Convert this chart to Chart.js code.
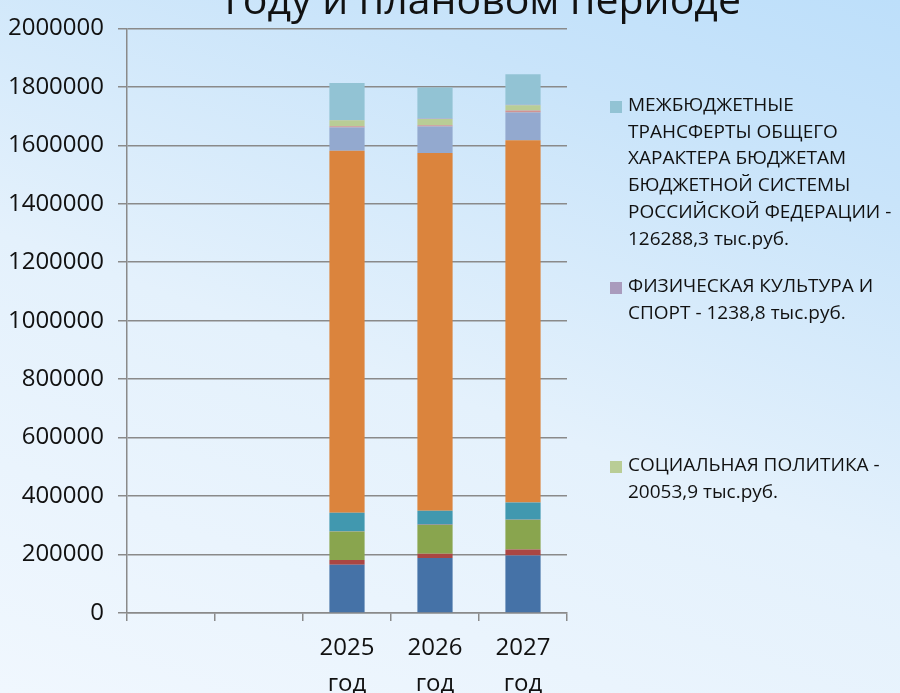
<!DOCTYPE html>
<html>
<head>
<meta charset="utf-8">
<script src="https://cdn.jsdelivr.net/npm/chart.js@4/dist/chart.umd.min.js"></script>
<style>
  html, body { margin: 0; padding: 0; }
  body {
    width: 900px; height: 693px; overflow: hidden; position: relative;
    background: linear-gradient(20deg, #f0f7fe 0%, #e4f1fc 45%, #c9e4fa 80%, #bddffa 100%);
    font-family: "Open Sans", sans-serif;
  }
  #wrap { position: absolute; left: 0; top: 0; width: 900px; height: 693px; }
  .title {
    position: absolute; left: 0; width: 966px; top: -22px;
    text-align: center; font-size: 41px; line-height: 41px; color: #111; white-space: nowrap;
  }
  .legend { position: absolute; left: 610px; font-size: 19px; line-height: 26.7px; color: #111; }
  .legend .sw { position: absolute; left: 0; top: 10px; width: 12px; height: 12px; }
  .legend .tx { margin-left: 18px; white-space: nowrap; }
</style>
</head>
<body>
<div id="wrap"><canvas id="chart" width="900" height="693"></canvas></div>
<div class="title">году и плановом периоде</div>
<div id="legend"></div>
<script>
const categories = ["", "", ["2025", "год"], ["2026", "год"], ["2027", "год"]];

// серии снизу вверх
const seriesNames = [
  "s1", "s2", "s3", "s4", "s5", "s6", "s7", "s8",
  "СОЦИАЛЬНАЯ ПОЛИТИКА - 20053,9 тыс.руб.",
  "ФИЗИЧЕСКАЯ КУЛЬТУРА И СПОРТ - 1238,8 тыс.руб.",
  "МЕЖБЮДЖЕТНЫЕ ТРАНСФЕРТЫ ОБЩЕГО ХАРАКТЕРА БЮДЖЕТАМ БЮДЖЕТНОЙ СИСТЕМЫ РОССИЙСКОЙ ФЕДЕРАЦИИ - 126288,3 тыс.руб."
];
const seriesColors = [
  "#4572a7", "#aa4643", "#89a54e", "#71588f", "#4198af", "#db843d",
  "#93a9cf", "#d19392", "#b9cd96", "#a99bbd", "#92c3d4"
];
const s1 = [null, null, 165000, 188000, 197000];
const s2 = [null, null, 16000, 15000, 20300];
const s3 = [null, null, 97500, 98500, 102000];
const s4 = [null, null, 1000, 2000, 1000];
const s5 = [null, null, 63500, 46500, 57800];
const s6 = [null, null, 1238000, 1223600, 1239500];
const s7 = [null, null, 80000, 90600, 95100];
const s8 = [null, null, 4400, 4500, 6800];
const s9 = [null, null, 20053.9, 21500, 18000];
const s10 = [null, null, 1238.8, 1200, 1200];
const s11 = [null, null, 126288.3, 106500, 104200];
const seriesValues = [s1, s2, s3, s4, s5, s6, s7, s8, s9, s10, s11];
const yTicks = [0, 200000, 400000, 600000, 800000, 1000000, 1200000, 1400000, 1600000, 1800000, 2000000];

// легенда (видны только три пункта)
const legendItems = [
  { idx: 10, top: 91, lines: ["МЕЖБЮДЖЕТНЫЕ", "ТРАНСФЕРТЫ ОБЩЕГО", "ХАРАКТЕРА БЮДЖЕТАМ", "БЮДЖЕТНОЙ СИСТЕМЫ", "РОССИЙСКОЙ ФЕДЕРАЦИИ -", "126288,3 тыс.руб."] },
  { idx: 9, top: 272, lines: ["ФИЗИЧЕСКАЯ КУЛЬТУРА И", "СПОРТ - 1238,8 тыс.руб."] },
  { idx: 8, top: 451, lines: ["СОЦИАЛЬНАЯ ПОЛИТИКА -", "20053,9 тыс.руб."] }
];
const legendEl = document.getElementById("legend");
legendItems.forEach((it) => {
  const d = document.createElement("div");
  d.className = "legend";
  d.style.top = it.top + "px";
  d.innerHTML = '<span class="sw" style="background:' + seriesColors[it.idx] + '"></span>' +
    '<div class="tx">' + it.lines.join("<br>") + "</div>";
  legendEl.appendChild(d);
});

const gridColor = "#8a8a8a";

new Chart(document.getElementById("chart"), {
  type: "bar",
  data: {
    labels: categories,
    datasets: seriesValues.map((vals, i) => ({
      label: seriesNames[i],
      data: vals,
      backgroundColor: seriesColors[i],
      borderWidth: 0,
      barPercentage: 0.4,
      categoryPercentage: 1.0,
    })),
  },
  options: {
    responsive: false,
    animation: false,
    layout: { padding: { top: 24, right: 333, left: 0, bottom: 0 } },
    plugins: { legend: { display: false }, tooltip: { enabled: false } },
    scales: {
      x: {
        stacked: true,
        afterFit: (s) => { s.height = 80; },
        grid: { display: true, drawOnChartArea: false, offset: true, tickLength: 8, color: gridColor, lineWidth: 1.5 },
        border: { display: true, color: gridColor, width: 1.5 },
        ticks: { color: "#111", padding: 9, maxRotation: 0, autoSkip: false, font: { family: "Open Sans", size: 24, lineHeight: 1.5 } },
      },
      y: {
        stacked: true,
        min: 0,
        max: 2000000,
        afterFit: (s) => { s.width = 127; },
        afterBuildTicks: (s) => { s.ticks = yTicks.map((v) => ({ value: v })); },
        grid: { color: gridColor, lineWidth: 1.5, tickLength: 9 },
        border: { display: true, color: gridColor, width: 1.5 },
        ticks: { color: "#111", padding: 14, callback: (v) => String(v), font: { family: "Open Sans", size: 24 } },
      },
    },
  },
});
</script>
</body>
</html>
